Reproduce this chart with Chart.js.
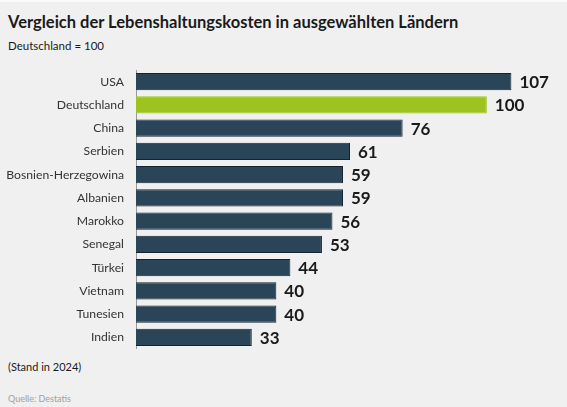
<!DOCTYPE html>
<html lang="de">
<head>
<meta charset="utf-8">
<script src="https://cdn.jsdelivr.net/npm/chart.js@4"></script>
<style>
  html, body { margin: 0; padding: 0; }
  body {
    width: 567px; height: 407px; background: #f0f0f0; position: relative;
    font-family: Lato, sans-serif; color: #1a1a1a; overflow: hidden;
    border-top: 2px solid #fafafa; box-sizing: border-box;
  }
  .title { position: absolute; left: 8px; top: 10px; font-size: 16.5px; font-weight: 700; }
  .subtitle { position: absolute; left: 8px; top: 37px; font-size: 11.5px; }
  .note { position: absolute; left: 8px; top: 358px; font-size: 11px; }
  .source { position: absolute; left: 8px; top: 391px; font-size: 9px; color: #a0a0a0; }
  .wrap { position: absolute; left: 0; top: 68px; width: 567px; height: 279px; }
</style>
</head>
<body>
<div class="title">Vergleich der Lebenshaltungskosten in ausgewählten Ländern</div>
<div class="subtitle">Deutschland = 100</div>
<div class="wrap"><canvas id="chart"></canvas></div>
<div class="note">(Stand in 2024)</div>
<div class="source">Quelle: Destatis</div>
<script>
const countries = ['USA', 'Deutschland', 'China', 'Serbien', 'Bosnien-Herzegowina', 'Albanien',
  'Marokko', 'Senegal', 'Türkei', 'Vietnam', 'Tunesien', 'Indien'];
const costIndex = [107, 100, 76, 61, 59, 59, 56, 53, 44, 40, 40, 33];
const highlight = 'Deutschland';

const DARK = '#2b4558';
const GREEN = '#9dc41e';

// draws the number to the right of each bar
const valueLabels = {
  id: 'valueLabels',
  afterDatasetsDraw(chart) {
    const ctx = chart.ctx;
    const meta = chart.getDatasetMeta(0);
    ctx.save();
    ctx.font = 'bold 17px Lato, sans-serif';
    ctx.fillStyle = '#1a1a1a';
    ctx.textBaseline = 'middle';
    meta.data.forEach((bar, i) => {
      ctx.fillText(costIndex[i], bar.x + 8, bar.y + 1);
    });
    ctx.restore();
  }
};

new Chart(document.getElementById('chart'), {
  type: 'bar',
  data: {
    labels: countries,
    datasets: [{
      data: costIndex,
      backgroundColor: countries.map(c => c === highlight ? GREEN : DARK),
      borderColor: countries.map(c => c === highlight ? GREEN : '#14232f'),
      borderWidth: 1,
      categoryPercentage: 1,
      barPercentage: 0.74
    }]
  },
  options: {
    indexAxis: 'y',
    responsive: true,
    maintainAspectRatio: false,
    animation: false,
    layout: { padding: { left: 0, right: 10, top: 0, bottom: 0 } },
    plugins: { legend: { display: false }, tooltip: { enabled: false } },
    scales: {
      x: { display: false, min: 0, max: 120 },
      y: {
        grid: { display: false },
        border: { display: true, color: '#9a9a9a', width: 1 },
        ticks: { color: '#333', font: { size: 12.2, family: 'Lato, sans-serif' }, padding: 4 },
        afterFit(scale) {
          scale.width = 136;
          scale.paddingTop = 0;
          scale.paddingBottom = 0;
        }
      }
    }
  },
  plugins: [valueLabels]
});
</script>
</body>
</html>
